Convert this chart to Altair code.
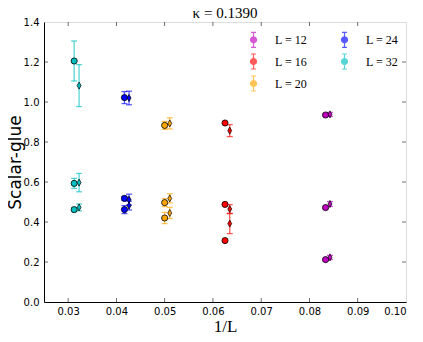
import altair as alt
import pandas as pd

# ---- data ----
L_values = [12, 16, 20, 24, 32]
labels = ["L = 12", "L = 16", "L = 20", "L = 24", "L = 32"]
colors = ["#BF00BF", "#FF0000", "#FFA500", "#0000FF", "#00BFBF"]

circle_x = [1 / 12, 1 / 16, 1 / 20, 1 / 24, 1 / 32]
circle_y = [
    [0.935, 0.472, 0.212],
    [0.895, 0.488, 0.307],
    [0.883, 0.497, 0.420],
    [1.022, 0.518, 0.462],
    [1.205, 0.593, 0.462],
]
circle_err = [
    [0.006, 0.006, 0.006],
    [0.005, 0.005, 0.005],
    [0.020, 0.020, 0.028],
    [0.030, 0.010, 0.020],
    [0.100, 0.025, 0.010],
]

diamond_x = [0.08425, 0.06348, 0.05105, 0.04262, 0.03227]
diamond_y = [
    [0.938, 0.490, 0.223],
    [0.857, 0.465, 0.392],
    [0.893, 0.518, 0.445],
    [1.020, 0.512, 0.482],
    [1.082, 0.597, 0.473],
]
diamond_err = [
    [0.010, 0.012, 0.010],
    [0.030, 0.022, 0.050],
    [0.028, 0.023, 0.028],
    [0.034, 0.027, 0.022],
    [0.105, 0.046, 0.017],
]

x_ticks = [0.03, 0.04, 0.05, 0.06, 0.07, 0.08, 0.09, 0.10]
y_ticks = [0.0, 0.2, 0.4, 0.6, 0.8, 1.0, 1.2, 1.4]

# ---- build tables ----
rows = []
for i, lab in enumerate(labels):
    for kind, xs_, ys_, es_ in (("circle", circle_x, circle_y, circle_err),
                                ("diamond", diamond_x, diamond_y, diamond_err)):
        for y, e in zip(ys_[i], es_[i]):
            rows.append(dict(label=lab, kind=kind, x=xs_[i], y=y,
                             lo=y - e, hi=y + e))
df = pd.DataFrame(rows)
caps = pd.concat([df.assign(cap=df["lo"]), df.assign(cap=df["hi"])])

color_scale = alt.Scale(domain=labels, range=colors)

xs = alt.Scale(domain=[0.025, 0.10], nice=False, zero=False)
ys = alt.Scale(domain=[0.0, 1.4], nice=False)

x_axis = alt.Axis(values=x_ticks, format=".2f", ticks=False, grid=False,
                  labelOverlap=False,
                  labelFont="DejaVu Sans", labelFontSize=10, labelColor="black",
                  labelPadding=4, title="1/L", titleFont="Liberation Serif",
                  titleFontSize=17, titleFontWeight="normal",
                  titleColor="black", titleBaseline="alphabetic",
                  titleY=29, domainColor="black")
y_axis = alt.Axis(tickCount=7, format=".1f", ticks=False, grid=False,
                  labelOverlap=False, labelSeparation=0,
                  labelFont="DejaVu Sans", labelFontSize=10, labelColor="black",
                  labelPadding=5, title="Scalar-glue", titleFont="DejaVu Sans",
                  titleFontSize=17, titleFontWeight="normal",
                  titleColor="black", titleBaseline="alphabetic",
                  titleX=-24, titleY=140, titleAlign="center",
                  domainColor="black")

# legend symbol: filled circle with a capped error bar, kept inside [-1, 1]
legend_sym = ("M-0.4,0A0.4,0.4,0,1,0,0.4,0A0.4,0.4,0,1,0,-0.4,0Z"
              "M0,-1L0,1M-0.33,-1L0.33,-1M-0.33,1L0.33,1")
legend = alt.Legend(
    title=None, orient="none", legendX=201, legendY=9, columns=2,
    symbolType=legend_sym, symbolSize=225, symbolStrokeWidth=1.2,
    labelFont="Liberation Serif", labelFontSize=12, labelColor="black",
    labelOffset=13, columnPadding=28, rowPadding=1, padding=0)

X = lambda f: alt.X(f, scale=xs, axis=x_axis)
Y = lambda f: alt.Y(f, scale=ys, axis=y_axis)

base = alt.Chart(df)

err_rules = base.mark_rule(strokeWidth=1.3, opacity=0.65).encode(
    x=X("x:Q"), y=Y("lo:Q"), y2="hi:Q",
    color=alt.Color("label:N", scale=color_scale, legend=legend),
)

err_caps = alt.Chart(caps).mark_tick(orient="horizontal", size=6,
                                     thickness=1.3, opacity=0.65).encode(
    x=X("x:Q"), y=Y("cap:Q"),
    color=alt.Color("label:N", scale=color_scale, legend=legend),
)

circles = base.transform_filter(alt.datum.kind == "circle").mark_point(
    shape="circle", filled=True, size=38, stroke="black", strokeWidth=0.8,
    opacity=1
).encode(
    x=X("x:Q"), y=Y("y:Q"),
    color=alt.Color("label:N", scale=color_scale, legend=legend),
)

diamonds = base.transform_filter(alt.datum.kind == "diamond").mark_point(
    shape="M0,-1L0.55,0L0,1L-0.55,0Z", filled=True, size=50,
    stroke="black", strokeWidth=0.7, opacity=1
).encode(
    x=X("x:Q"), y=Y("y:Q"),
    color=alt.Color("label:N", scale=color_scale, legend=legend),
)

xt = pd.DataFrame({"t": x_ticks[:-1]})
yt = pd.DataFrame({"t": y_ticks[1:-1]})
tick_kw = dict(color="black", thickness=0.8, size=4)
bottom_ticks = alt.Chart(xt).mark_tick(orient="vertical", **tick_kw).encode(
    x=X("t:Q"), y=alt.datum(0.0), yOffset=alt.value(-2))
top_ticks = alt.Chart(xt).mark_tick(orient="vertical", **tick_kw).encode(
    x=X("t:Q"), y=alt.datum(1.4), yOffset=alt.value(2))
left_ticks = alt.Chart(yt).mark_tick(orient="horizontal", **tick_kw).encode(
    y=Y("t:Q"), x=alt.datum(0.025), xOffset=alt.value(2))
right_ticks = alt.Chart(yt).mark_tick(orient="horizontal", **tick_kw).encode(
    y=Y("t:Q"), x=alt.datum(0.10), xOffset=alt.value(-2))

chart = alt.layer(
    err_rules, err_caps, circles, diamonds,
    bottom_ticks, top_ticks, left_ticks, right_ticks,
).properties(
    width=362, height=280,
    title=alt.TitleParams("κ = 0.1390", font="Liberation Serif", fontSize=15,
                          fontWeight="normal", color="black", offset=1, dy=5),
    autosize=alt.AutoSizeParams(type="none"),
    padding={"left": 36, "top": 14, "right": 9, "bottom": 32},
).configure_view(
    stroke="black", strokeWidth=1
).configure_axis(
    labelOverlap=False
).configure(background="white")

chart.save("out.html", embed_options={"renderer": "svg", "actions": False})
